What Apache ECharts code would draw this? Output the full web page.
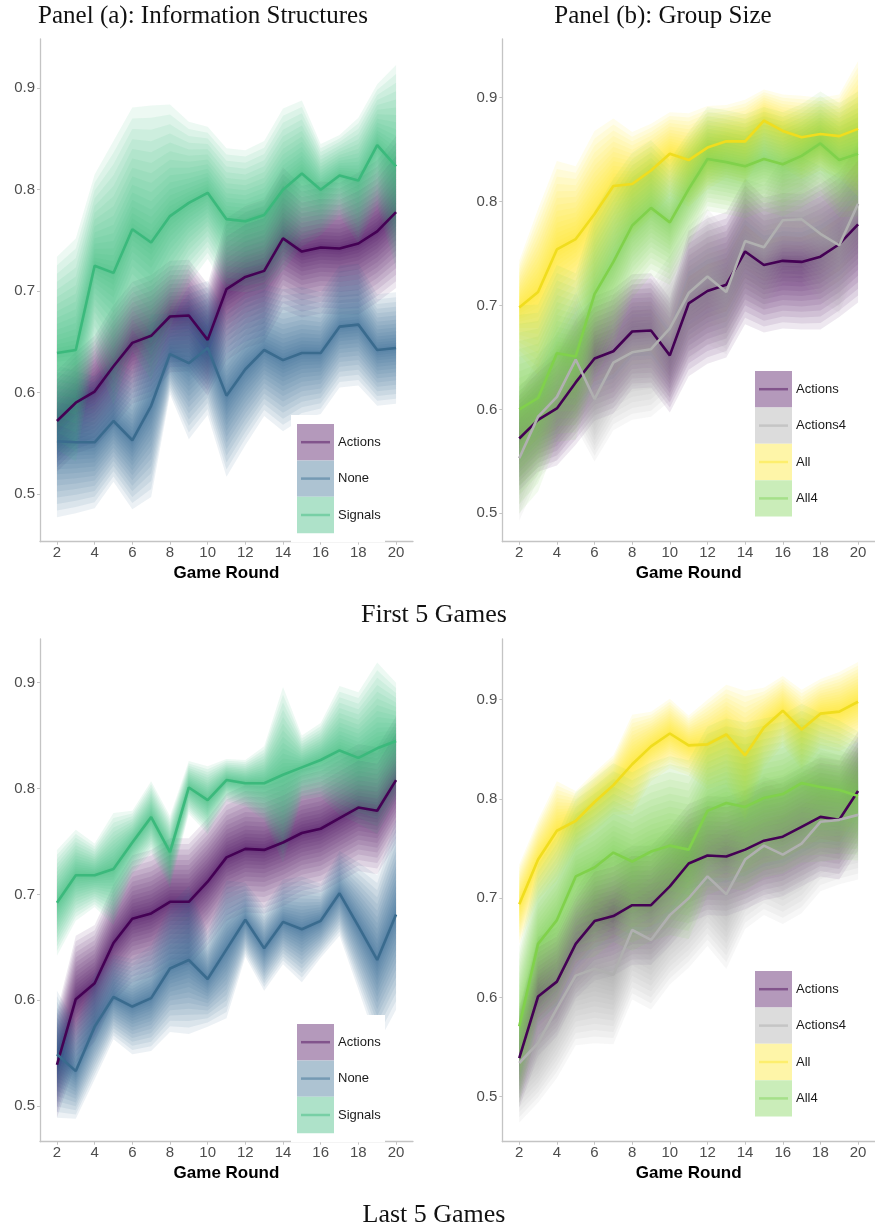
<!DOCTYPE html>
<html><head><meta charset="utf-8">
<script src="https://cdn.jsdelivr.net/npm/echarts@6.0.0/dist/echarts.min.js"></script>
<style>html,body{margin:0;padding:0;background:#fff}#c{width:875px;height:1230px}</style>
</head><body><div id="c"></div>
<script>
// ---------- data ----------
const rounds = [2,3,4,5,6,7,8,9,10,11,12,13,14,15,16,17,18,19,20];
const xTicks = [2,4,6,8,10,12,14,16,18,20];
const yTicks = [0.5,0.6,0.7,0.8,0.9];

// First 5 Games
const firstActions       = [0.572,0.590,0.601,0.626,0.649,0.656,0.675,0.676,0.652,0.702,0.714,0.720,0.752,0.739,0.743,0.742,0.747,0.759,0.778];
const firstActionsSpread = [0.050,0.050,0.055,0.060,0.060,0.060,0.055,0.055,0.055,0.070,0.070,0.070,0.070,0.065,0.065,0.065,0.070,0.070,0.075];
const firstNone          = [0.552,0.551,0.551,0.572,0.553,0.587,0.638,0.629,0.644,0.597,0.623,0.642,0.632,0.639,0.639,0.665,0.667,0.642,0.644];
const firstNoneSpread    = [0.075,0.070,0.065,0.060,0.068,0.090,0.040,0.075,0.066,0.080,0.075,0.065,0.070,0.065,0.060,0.060,0.060,0.055,0.055];
const firstSignals       = [0.639,0.642,0.725,0.718,0.761,0.748,0.774,0.787,0.797,0.771,0.769,0.775,0.800,0.816,0.800,0.814,0.809,0.844,0.823];
const firstSignalsSpread = [0.095,0.110,0.090,0.130,0.120,0.135,0.110,0.080,0.065,0.070,0.070,0.073,0.080,0.072,0.045,0.040,0.062,0.060,0.100];
const firstActions4       = [0.553,0.593,0.612,0.648,0.610,0.645,0.655,0.658,0.678,0.712,0.728,0.713,0.762,0.756,0.782,0.783,0.769,0.758,0.798];
const firstActions4Spread = [0.060,0.060,0.060,0.065,0.060,0.065,0.065,0.065,0.070,0.065,0.065,0.060,0.060,0.060,0.060,0.060,0.065,0.065,0.060];
const firstAll            = [0.698,0.713,0.754,0.764,0.788,0.815,0.817,0.830,0.846,0.840,0.852,0.858,0.858,0.878,0.868,0.862,0.865,0.863,0.870];
const firstAllSpread      = [0.045,0.080,0.085,0.070,0.080,0.065,0.050,0.045,0.040,0.045,0.040,0.035,0.040,0.030,0.035,0.040,0.035,0.040,0.065];
const firstAll4           = [0.600,0.611,0.654,0.651,0.711,0.742,0.777,0.794,0.780,0.812,0.841,0.838,0.834,0.841,0.836,0.844,0.856,0.840,0.846];
const firstAll4Spread     = [0.100,0.090,0.085,0.080,0.080,0.080,0.070,0.065,0.060,0.055,0.050,0.050,0.050,0.050,0.050,0.050,0.050,0.055,0.060];

// Last 5 Games
const lastActions        = [0.539,0.601,0.616,0.654,0.677,0.682,0.693,0.693,0.712,0.735,0.743,0.742,0.749,0.758,0.762,0.772,0.782,0.779,0.808];
const lastActionsSpread  = [0.050,0.060,0.055,0.055,0.060,0.060,0.060,0.060,0.060,0.060,0.060,0.060,0.060,0.060,0.060,0.060,0.060,0.060,0.060];
const lastNone           = [0.549,0.533,0.575,0.603,0.594,0.602,0.630,0.638,0.620,0.648,0.676,0.649,0.674,0.667,0.675,0.701,0.670,0.638,0.681];
const lastNoneSpread     = [0.060,0.045,0.050,0.040,0.045,0.050,0.060,0.070,0.045,0.065,0.035,0.040,0.040,0.050,0.035,0.040,0.060,0.080,0.090];
const lastSignals        = [0.692,0.718,0.718,0.724,0.749,0.773,0.740,0.801,0.789,0.808,0.805,0.805,0.813,0.820,0.827,0.836,0.829,0.838,0.845];
const lastSignalsSpread  = [0.050,0.043,0.030,0.053,0.030,0.034,0.034,0.025,0.032,0.020,0.022,0.035,0.083,0.030,0.035,0.061,0.062,0.081,0.055];
const lastActions4        = [0.534,0.554,0.589,0.622,0.629,0.623,0.668,0.658,0.683,0.700,0.722,0.704,0.739,0.753,0.744,0.755,0.777,0.779,0.784];
const lastActions4Spread  = [0.060,0.060,0.070,0.070,0.075,0.070,0.070,0.070,0.070,0.070,0.070,0.075,0.070,0.070,0.070,0.070,0.070,0.065,0.065];
const lastAll             = [0.694,0.739,0.768,0.778,0.797,0.814,0.835,0.853,0.866,0.854,0.855,0.865,0.844,0.872,0.889,0.870,0.886,0.888,0.898];
const lastAllSpread       = [0.040,0.040,0.050,0.030,0.030,0.030,0.050,0.035,0.035,0.030,0.045,0.050,0.065,0.040,0.035,0.040,0.035,0.040,0.040];
const lastAll4            = [0.571,0.654,0.678,0.722,0.731,0.746,0.737,0.747,0.753,0.749,0.788,0.796,0.792,0.801,0.805,0.816,0.812,0.809,0.803];
const lastAll4Spread      = [0.080,0.080,0.085,0.085,0.090,0.090,0.090,0.090,0.090,0.090,0.085,0.085,0.085,0.080,0.080,0.080,0.075,0.070,0.065];

const panelTitles = ['Panel (a): Information Structures', 'Panel (b): Group Size'];
const rowTitles = ['First 5 Games', 'Last 5 Games'];
const xName = 'Game Round';

// ---------- styling ----------
const COLORS = {Actions:'#440154', None:'#31688E', Signals:'#35B779', Actions4:'#A8A8A8', All:'#FDE725', All4:'#7AD151'};
const LINECOLORS = {Actions:'#440154', None:'#3A6B8E', Signals:'#3BB97C', Actions4:'#B0B0B0', All:'#F0DD1E', All4:'#80D14B'};
const K = 16;
const ALPHA = 0.09;
const layers = Array.from({length:K}, (_, k) => k);
const SANS = '"Liberation Sans", Arial, sans-serif';
const SERIF = '"Liberation Serif", "DejaVu Serif", serif';

function mix(hex, t) {
  const r = parseInt(hex.slice(1,3),16), g = parseInt(hex.slice(3,5),16), b = parseInt(hex.slice(5,7),16);
  const f = c => Math.round(255 - t*(255 - c));
  return 'rgb(' + f(r) + ',' + f(g) + ',' + f(b) + ')';
}

const panels = [
  {grid:{left:40, top:39, width:373, height:502.7}, yMin:0.453, yMax:0.9486, legend:[297,424],
   series:[['Actions',firstActions,firstActionsSpread],['None',firstNone,firstNoneSpread],['Signals',firstSignals,firstSignalsSpread]]},
  {grid:{left:502.3, top:39, width:372.7, height:502.7}, yMin:0.4727, yMax:0.9565, legend:[755,371],
   series:[['Actions',firstActions,firstActionsSpread],['Actions4',firstActions4,firstActions4Spread],['All',firstAll,firstAllSpread],['All4',firstAll4,firstAll4Spread]]},
  {grid:{left:40, top:639, width:373, height:502.7}, yMin:0.4663, yMax:0.9413, legend:[297,1024],
   series:[['Actions',lastActions,lastActionsSpread],['None',lastNone,lastNoneSpread],['Signals',lastSignals,lastSignalsSpread]]},
  {grid:{left:502.3, top:639, width:372.7, height:502.7}, yMin:0.4547, yMax:0.9612, legend:[755,971],
   series:[['Actions',lastActions,lastActionsSpread],['Actions4',lastActions4,lastActions4Spread],['All',lastAll,lastAllSpread],['All4',lastAll4,lastAll4Spread]]}
];

const option = {animation:false, backgroundColor:'#fff', grid:[], xAxis:[], yAxis:[], series:[], graphic:[]};

panels.forEach((p, pi) => {
  option.grid.push(Object.assign({containLabel:false}, p.grid));
  option.xAxis.push({
    type:'value', gridIndex:pi, min:1.1, max:20.9,
    name:xName, nameLocation:'middle', nameGap:23,
    nameTextStyle:{fontFamily:SANS, fontWeight:'bold', fontSize:17, color:'#000'},
    axisLine:{show:true, lineStyle:{color:'#c4c4c4', width:1.3}},
    axisTick:{show:true, length:3, lineStyle:{color:'#c4c4c4'}, customValues:xTicks},
    axisLabel:{show:true, margin:4, fontFamily:SANS, fontSize:15, color:'#4d4d4d', customValues:xTicks},
    splitLine:{show:false}
  });
  option.yAxis.push({
    type:'value', gridIndex:pi, min:p.yMin, max:p.yMax,
    axisLine:{show:true, lineStyle:{color:'#c4c4c4', width:1.3}},
    axisTick:{show:true, length:3, lineStyle:{color:'#c4c4c4'}, customValues:yTicks},
    axisLabel:{show:true, margin:5, fontFamily:SANS, fontSize:15, color:'#4d4d4d', customValues:yTicks,
      formatter: v => v.toFixed(1)},
    splitLine:{show:false}
  });
  // fans: nested translucent intervals around each mean line
  p.series.forEach(([name, mean, spread]) => {
    const color = COLORS[name];
    option.series.push({
      type:'custom', name:name, xAxisIndex:pi, yAxisIndex:pi, z:2, silent:true,
      data: layers.map(k => [rounds[0], mean[0], k]),
      encode:{x:0, y:1},
      renderItem: (params, api) => {
        const k = api.value(2);
        const f = Math.pow((K - k) / K, 1.45);
        const top = rounds.map((r, i) => api.coord([r, mean[i] + f*spread[i]]));
        const bot = rounds.map((r, i) => api.coord([r, mean[i] - f*spread[i]])).reverse();
        return {type:'polygon', shape:{points: top.concat(bot)}, style:{fill: color, opacity: ALPHA}};
      }
    });
  });
  // lines
  p.series.forEach(([name, mean]) => {
    option.series.push({
      type:'line', name:name, xAxisIndex:pi, yAxisIndex:pi, z:3, silent:true,
      data: rounds.map((r, i) => [r, mean[i]]),
      showSymbol:false, symbol:'none',
      lineStyle:{color:LINECOLORS[name], width:2.6}
    });
  });
  // legend
  const [bx, by] = p.legend;
  const keyH = 36.4, boxW = 37;
  const n = p.series.length;
  option.graphic.push({type:'rect', z:50, shape:{x:bx-6, y:by-9, width:94, height:keyH*n+18}, style:{fill:'#fff'}});
  p.series.forEach(([name], i) => {
    const y0 = by + i*keyH;
    option.graphic.push({type:'rect', z:51, shape:{x:bx, y:y0, width:boxW, height:keyH}, style:{fill:mix(COLORS[name], 0.4)}});
    option.graphic.push({type:'line', z:52, shape:{x1:bx+4, y1:y0+keyH/2, x2:bx+boxW-4, y2:y0+keyH/2},
      style:{stroke:COLORS[name], lineWidth:2.5, opacity:0.45}});
    option.graphic.push({type:'text', z:52, x:bx+boxW+4, y:y0+keyH/2,
      style:{text:name, fontFamily:SANS, fontSize:13, fill:'#1a1a1a', textAlign:'left', textVerticalAlign:'middle'}});
  });
});

// titles
[[panelTitles[0], 203, 16, 25], [panelTitles[1], 663, 16, 25], [rowTitles[0], 434, 615, 26], [rowTitles[1], 434, 1215, 26]].forEach(([t, x, y, s]) => {
  option.graphic.push({type:'text', z:60, x:x, y:y,
    style:{text:t, fontFamily:SERIF, fontSize:s, fill:'#111', textAlign:'center', textVerticalAlign:'middle'}});
});

const chart = echarts.init(document.getElementById('c'), null, {renderer:'canvas'});
chart.setOption(option);
</script>
</body></html>
